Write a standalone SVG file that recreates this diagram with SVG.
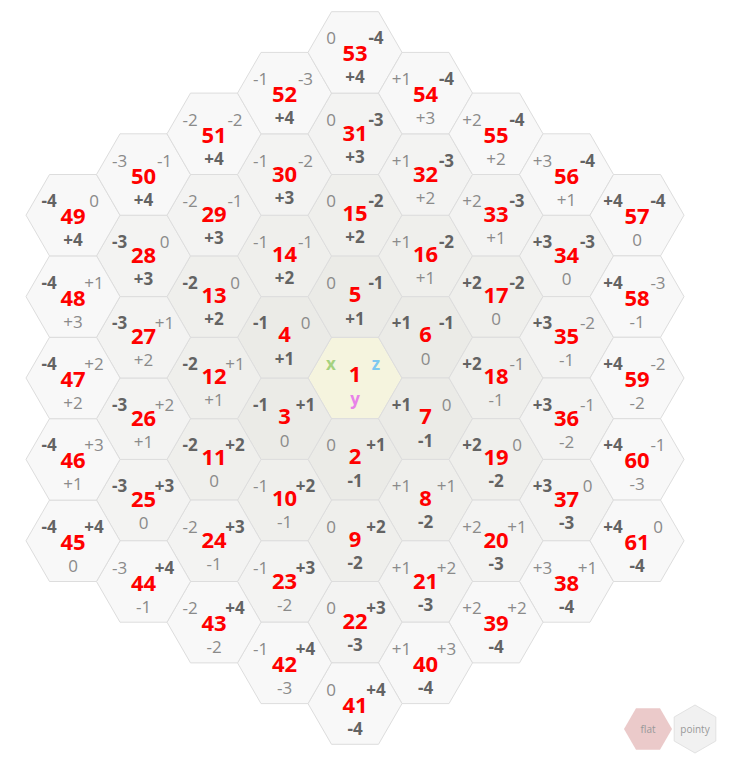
<svg xmlns="http://www.w3.org/2000/svg" xmlns:xlink="http://www.w3.org/1999/xlink" width="732" height="762" viewBox="0 0 732 762">
<style>
.hx{stroke:#dddddd;stroke-width:1}
.r0{fill:#f5f4de}.r1{fill:#ebebe7}.r2{fill:#efefec}.r3{fill:#f3f3f2}.r4{fill:#f8f8f8}
text{font-family:"Open Sans","Liberation Sans",sans-serif;text-anchor:middle}
.n{font-size:22px;font-weight:bold;fill:#ff0000}
.c{font-size:17px}
.b{font-weight:bold;fill:#636363}
.l{font-weight:normal;fill:#8a8a8a}
.btn{font-size:10px;fill:#999999}
</style>
<defs>
<path id="hex" d="M47,0 L23.5,40.7 L-23.5,40.7 L-47,0 L-23.5,-40.7 L23.5,-40.7 Z"/>
</defs>
<rect width="732" height="762" fill="#ffffff"/>
<g id="grid">
<g id="h1" transform="translate(355,378)"><use href="#hex" class="hx r0"/><text class="n" y="4">1</text><text class="c" x="-24" y="-8" style="font-weight:bold;fill:#a6d27f">x</text><text class="c" x="21" y="-8" style="font-weight:bold;fill:#7ec8f0">z</text><text class="c" y="27" style="font-weight:bold;fill:#e882e8">y</text></g>
<g id="h2" transform="translate(355,459.4)"><use href="#hex" class="hx r1"/><text class="n" y="5">2</text><text class="c l" x="-24" y="-8">0</text><text class="c b" x="21" y="-8">+1</text><text class="c b" y="28">-1</text></g>
<g id="h3" transform="translate(284.5,418.7)"><use href="#hex" class="hx r1"/><text class="n" y="5">3</text><text class="c b" x="-24" y="-8">-1</text><text class="c b" x="21" y="-8">+1</text><text class="c l" y="28">0</text></g>
<g id="h4" transform="translate(284.5,337.3)"><use href="#hex" class="hx r1"/><text class="n" y="5">4</text><text class="c b" x="-24" y="-8">-1</text><text class="c l" x="21" y="-8">0</text><text class="c b" y="28">+1</text></g>
<g id="h5" transform="translate(355,296.6)"><use href="#hex" class="hx r1"/><text class="n" y="5">5</text><text class="c l" x="-24" y="-8">0</text><text class="c b" x="21" y="-8">-1</text><text class="c b" y="28">+1</text></g>
<g id="h6" transform="translate(425.5,337.3)"><use href="#hex" class="hx r1"/><text class="n" y="5">6</text><text class="c b" x="-24" y="-8">+1</text><text class="c b" x="21" y="-8">-1</text><text class="c l" y="28">0</text></g>
<g id="h7" transform="translate(425.5,418.7)"><use href="#hex" class="hx r1"/><text class="n" y="5">7</text><text class="c b" x="-24" y="-8">+1</text><text class="c l" x="21" y="-8">0</text><text class="c b" y="28">-1</text></g>
<g id="h8" transform="translate(425.5,500.1)"><use href="#hex" class="hx r2"/><text class="n" y="6">8</text><text class="c l" x="-24" y="-8">+1</text><text class="c l" x="21" y="-8">+1</text><text class="c b" y="28">-2</text></g>
<g id="h9" transform="translate(355,540.8)"><use href="#hex" class="hx r2"/><text class="n" y="6">9</text><text class="c l" x="-24" y="-8">0</text><text class="c b" x="21" y="-8">+2</text><text class="c b" y="28">-2</text></g>
<g id="h10" transform="translate(284.5,500.1)"><use href="#hex" class="hx r2"/><text class="n" y="6">10</text><text class="c l" x="-24" y="-8">-1</text><text class="c b" x="21" y="-8">+2</text><text class="c l" y="28">-1</text></g>
<g id="h11" transform="translate(214,459.4)"><use href="#hex" class="hx r2"/><text class="n" y="6">11</text><text class="c b" x="-24" y="-8">-2</text><text class="c b" x="21" y="-8">+2</text><text class="c l" y="28">0</text></g>
<g id="h12" transform="translate(214,378)"><use href="#hex" class="hx r2"/><text class="n" y="6">12</text><text class="c b" x="-24" y="-8">-2</text><text class="c l" x="21" y="-8">+1</text><text class="c l" y="28">+1</text></g>
<g id="h13" transform="translate(214,296.6)"><use href="#hex" class="hx r2"/><text class="n" y="6">13</text><text class="c b" x="-24" y="-8">-2</text><text class="c l" x="21" y="-8">0</text><text class="c b" y="28">+2</text></g>
<g id="h14" transform="translate(284.5,255.9)"><use href="#hex" class="hx r2"/><text class="n" y="6">14</text><text class="c l" x="-24" y="-8">-1</text><text class="c l" x="21" y="-8">-1</text><text class="c b" y="28">+2</text></g>
<g id="h15" transform="translate(355,215.2)"><use href="#hex" class="hx r2"/><text class="n" y="6">15</text><text class="c l" x="-24" y="-8">0</text><text class="c b" x="21" y="-8">-2</text><text class="c b" y="28">+2</text></g>
<g id="h16" transform="translate(425.5,255.9)"><use href="#hex" class="hx r2"/><text class="n" y="6">16</text><text class="c l" x="-24" y="-8">+1</text><text class="c b" x="21" y="-8">-2</text><text class="c l" y="28">+1</text></g>
<g id="h17" transform="translate(496,296.6)"><use href="#hex" class="hx r2"/><text class="n" y="6">17</text><text class="c b" x="-24" y="-8">+2</text><text class="c b" x="21" y="-8">-2</text><text class="c l" y="28">0</text></g>
<g id="h18" transform="translate(496,378)"><use href="#hex" class="hx r2"/><text class="n" y="6">18</text><text class="c b" x="-24" y="-8">+2</text><text class="c l" x="21" y="-8">-1</text><text class="c l" y="28">-1</text></g>
<g id="h19" transform="translate(496,459.4)"><use href="#hex" class="hx r2"/><text class="n" y="6">19</text><text class="c b" x="-24" y="-8">+2</text><text class="c l" x="21" y="-8">0</text><text class="c b" y="28">-2</text></g>
<g id="h20" transform="translate(496,540.8)"><use href="#hex" class="hx r3"/><text class="n" y="7">20</text><text class="c l" x="-24" y="-8">+2</text><text class="c l" x="21" y="-8">+1</text><text class="c b" y="29">-3</text></g>
<g id="h21" transform="translate(425.5,581.5)"><use href="#hex" class="hx r3"/><text class="n" y="7">21</text><text class="c l" x="-24" y="-8">+1</text><text class="c l" x="21" y="-8">+2</text><text class="c b" y="29">-3</text></g>
<g id="h22" transform="translate(355,622.2)"><use href="#hex" class="hx r3"/><text class="n" y="7">22</text><text class="c l" x="-24" y="-8">0</text><text class="c b" x="21" y="-8">+3</text><text class="c b" y="29">-3</text></g>
<g id="h23" transform="translate(284.5,581.5)"><use href="#hex" class="hx r3"/><text class="n" y="7">23</text><text class="c l" x="-24" y="-8">-1</text><text class="c b" x="21" y="-8">+3</text><text class="c l" y="29">-2</text></g>
<g id="h24" transform="translate(214,540.8)"><use href="#hex" class="hx r3"/><text class="n" y="7">24</text><text class="c l" x="-24" y="-8">-2</text><text class="c b" x="21" y="-8">+3</text><text class="c l" y="29">-1</text></g>
<g id="h25" transform="translate(143.5,500.1)"><use href="#hex" class="hx r3"/><text class="n" y="7">25</text><text class="c b" x="-24" y="-8">-3</text><text class="c b" x="21" y="-8">+3</text><text class="c l" y="29">0</text></g>
<g id="h26" transform="translate(143.5,418.7)"><use href="#hex" class="hx r3"/><text class="n" y="7">26</text><text class="c b" x="-24" y="-8">-3</text><text class="c l" x="21" y="-8">+2</text><text class="c l" y="29">+1</text></g>
<g id="h27" transform="translate(143.5,337.3)"><use href="#hex" class="hx r3"/><text class="n" y="7">27</text><text class="c b" x="-24" y="-8">-3</text><text class="c l" x="21" y="-8">+1</text><text class="c l" y="29">+2</text></g>
<g id="h28" transform="translate(143.5,255.9)"><use href="#hex" class="hx r3"/><text class="n" y="7">28</text><text class="c b" x="-24" y="-8">-3</text><text class="c l" x="21" y="-8">0</text><text class="c b" y="29">+3</text></g>
<g id="h29" transform="translate(214,215.2)"><use href="#hex" class="hx r3"/><text class="n" y="7">29</text><text class="c l" x="-24" y="-8">-2</text><text class="c l" x="21" y="-8">-1</text><text class="c b" y="29">+3</text></g>
<g id="h30" transform="translate(284.5,174.5)"><use href="#hex" class="hx r3"/><text class="n" y="7">30</text><text class="c l" x="-24" y="-8">-1</text><text class="c l" x="21" y="-8">-2</text><text class="c b" y="29">+3</text></g>
<g id="h31" transform="translate(355,133.8)"><use href="#hex" class="hx r3"/><text class="n" y="7">31</text><text class="c l" x="-24" y="-8">0</text><text class="c b" x="21" y="-8">-3</text><text class="c b" y="29">+3</text></g>
<g id="h32" transform="translate(425.5,174.5)"><use href="#hex" class="hx r3"/><text class="n" y="7">32</text><text class="c l" x="-24" y="-8">+1</text><text class="c b" x="21" y="-8">-3</text><text class="c l" y="29">+2</text></g>
<g id="h33" transform="translate(496,215.2)"><use href="#hex" class="hx r3"/><text class="n" y="7">33</text><text class="c l" x="-24" y="-8">+2</text><text class="c b" x="21" y="-8">-3</text><text class="c l" y="29">+1</text></g>
<g id="h34" transform="translate(566.5,255.9)"><use href="#hex" class="hx r3"/><text class="n" y="7">34</text><text class="c b" x="-24" y="-8">+3</text><text class="c b" x="21" y="-8">-3</text><text class="c l" y="29">0</text></g>
<g id="h35" transform="translate(566.5,337.3)"><use href="#hex" class="hx r3"/><text class="n" y="7">35</text><text class="c b" x="-24" y="-8">+3</text><text class="c l" x="21" y="-8">-2</text><text class="c l" y="29">-1</text></g>
<g id="h36" transform="translate(566.5,418.7)"><use href="#hex" class="hx r3"/><text class="n" y="7">36</text><text class="c b" x="-24" y="-8">+3</text><text class="c l" x="21" y="-8">-1</text><text class="c l" y="29">-2</text></g>
<g id="h37" transform="translate(566.5,500.1)"><use href="#hex" class="hx r3"/><text class="n" y="7">37</text><text class="c b" x="-24" y="-8">+3</text><text class="c l" x="21" y="-8">0</text><text class="c b" y="29">-3</text></g>
<g id="h38" transform="translate(566.5,581.5)"><use href="#hex" class="hx r4"/><text class="n" y="9">38</text><text class="c l" x="-24" y="-8">+3</text><text class="c l" x="21" y="-8">+1</text><text class="c b" y="31">-4</text></g>
<g id="h39" transform="translate(496,622.2)"><use href="#hex" class="hx r4"/><text class="n" y="9">39</text><text class="c l" x="-24" y="-8">+2</text><text class="c l" x="21" y="-8">+2</text><text class="c b" y="31">-4</text></g>
<g id="h40" transform="translate(425.5,662.9)"><use href="#hex" class="hx r4"/><text class="n" y="9">40</text><text class="c l" x="-24" y="-8">+1</text><text class="c l" x="21" y="-8">+3</text><text class="c b" y="31">-4</text></g>
<g id="h41" transform="translate(355,703.6)"><use href="#hex" class="hx r4"/><text class="n" y="9">41</text><text class="c l" x="-24" y="-8">0</text><text class="c b" x="21" y="-8">+4</text><text class="c b" y="31">-4</text></g>
<g id="h42" transform="translate(284.5,662.9)"><use href="#hex" class="hx r4"/><text class="n" y="9">42</text><text class="c l" x="-24" y="-8">-1</text><text class="c b" x="21" y="-8">+4</text><text class="c l" y="31">-3</text></g>
<g id="h43" transform="translate(214,622.2)"><use href="#hex" class="hx r4"/><text class="n" y="9">43</text><text class="c l" x="-24" y="-8">-2</text><text class="c b" x="21" y="-8">+4</text><text class="c l" y="31">-2</text></g>
<g id="h44" transform="translate(143.5,581.5)"><use href="#hex" class="hx r4"/><text class="n" y="9">44</text><text class="c l" x="-24" y="-8">-3</text><text class="c b" x="21" y="-8">+4</text><text class="c l" y="31">-1</text></g>
<g id="h45" transform="translate(73,540.8)"><use href="#hex" class="hx r4"/><text class="n" y="9">45</text><text class="c b" x="-24" y="-8">-4</text><text class="c b" x="21" y="-8">+4</text><text class="c l" y="31">0</text></g>
<g id="h46" transform="translate(73,459.4)"><use href="#hex" class="hx r4"/><text class="n" y="9">46</text><text class="c b" x="-24" y="-8">-4</text><text class="c l" x="21" y="-8">+3</text><text class="c l" y="31">+1</text></g>
<g id="h47" transform="translate(73,378)"><use href="#hex" class="hx r4"/><text class="n" y="9">47</text><text class="c b" x="-24" y="-8">-4</text><text class="c l" x="21" y="-8">+2</text><text class="c l" y="31">+2</text></g>
<g id="h48" transform="translate(73,296.6)"><use href="#hex" class="hx r4"/><text class="n" y="9">48</text><text class="c b" x="-24" y="-8">-4</text><text class="c l" x="21" y="-8">+1</text><text class="c l" y="31">+3</text></g>
<g id="h49" transform="translate(73,215.2)"><use href="#hex" class="hx r4"/><text class="n" y="9">49</text><text class="c b" x="-24" y="-8">-4</text><text class="c l" x="21" y="-8">0</text><text class="c b" y="31">+4</text></g>
<g id="h50" transform="translate(143.5,174.5)"><use href="#hex" class="hx r4"/><text class="n" y="9">50</text><text class="c l" x="-24" y="-8">-3</text><text class="c l" x="21" y="-8">-1</text><text class="c b" y="31">+4</text></g>
<g id="h51" transform="translate(214,133.8)"><use href="#hex" class="hx r4"/><text class="n" y="9">51</text><text class="c l" x="-24" y="-8">-2</text><text class="c l" x="21" y="-8">-2</text><text class="c b" y="31">+4</text></g>
<g id="h52" transform="translate(284.5,93.1)"><use href="#hex" class="hx r4"/><text class="n" y="9">52</text><text class="c l" x="-24" y="-8">-1</text><text class="c l" x="21" y="-8">-3</text><text class="c b" y="31">+4</text></g>
<g id="h53" transform="translate(355,52.4)"><use href="#hex" class="hx r4"/><text class="n" y="9">53</text><text class="c l" x="-24" y="-8">0</text><text class="c b" x="21" y="-8">-4</text><text class="c b" y="31">+4</text></g>
<g id="h54" transform="translate(425.5,93.1)"><use href="#hex" class="hx r4"/><text class="n" y="9">54</text><text class="c l" x="-24" y="-8">+1</text><text class="c b" x="21" y="-8">-4</text><text class="c l" y="31">+3</text></g>
<g id="h55" transform="translate(496,133.8)"><use href="#hex" class="hx r4"/><text class="n" y="9">55</text><text class="c l" x="-24" y="-8">+2</text><text class="c b" x="21" y="-8">-4</text><text class="c l" y="31">+2</text></g>
<g id="h56" transform="translate(566.5,174.5)"><use href="#hex" class="hx r4"/><text class="n" y="9">56</text><text class="c l" x="-24" y="-8">+3</text><text class="c b" x="21" y="-8">-4</text><text class="c l" y="31">+1</text></g>
<g id="h57" transform="translate(637,215.2)"><use href="#hex" class="hx r4"/><text class="n" y="9">57</text><text class="c b" x="-24" y="-8">+4</text><text class="c b" x="21" y="-8">-4</text><text class="c l" y="31">0</text></g>
<g id="h58" transform="translate(637,296.6)"><use href="#hex" class="hx r4"/><text class="n" y="9">58</text><text class="c b" x="-24" y="-8">+4</text><text class="c l" x="21" y="-8">-3</text><text class="c l" y="31">-1</text></g>
<g id="h59" transform="translate(637,378)"><use href="#hex" class="hx r4"/><text class="n" y="9">59</text><text class="c b" x="-24" y="-8">+4</text><text class="c l" x="21" y="-8">-2</text><text class="c l" y="31">-2</text></g>
<g id="h60" transform="translate(637,459.4)"><use href="#hex" class="hx r4"/><text class="n" y="9">60</text><text class="c b" x="-24" y="-8">+4</text><text class="c l" x="21" y="-8">-1</text><text class="c l" y="31">-3</text></g>
<g id="h61" transform="translate(637,540.8)"><use href="#hex" class="hx r4"/><text class="n" y="9">61</text><text class="c b" x="-24" y="-8">+4</text><text class="c l" x="21" y="-8">0</text><text class="c b" y="31">-4</text></g>
</g>
<g id="connectors"></g>
<g id="btn-flat" transform="translate(648,729)"><path d="M24,0 L12,20.8 L-12,20.8 L-24,0 L-12,-20.8 L12,-20.8 Z" fill="#ebcaca"/><text class="btn" y="3.5">flat</text></g>
<g id="btn-pointy" transform="translate(695,729)"><path d="M0,-24 L20.8,-12 L20.8,12 L0,24 L-20.8,12 L-20.8,-12 Z" fill="#f1f1f1" stroke="#e2e2e2"/><text class="btn" y="3.5">pointy</text></g>
</svg>
